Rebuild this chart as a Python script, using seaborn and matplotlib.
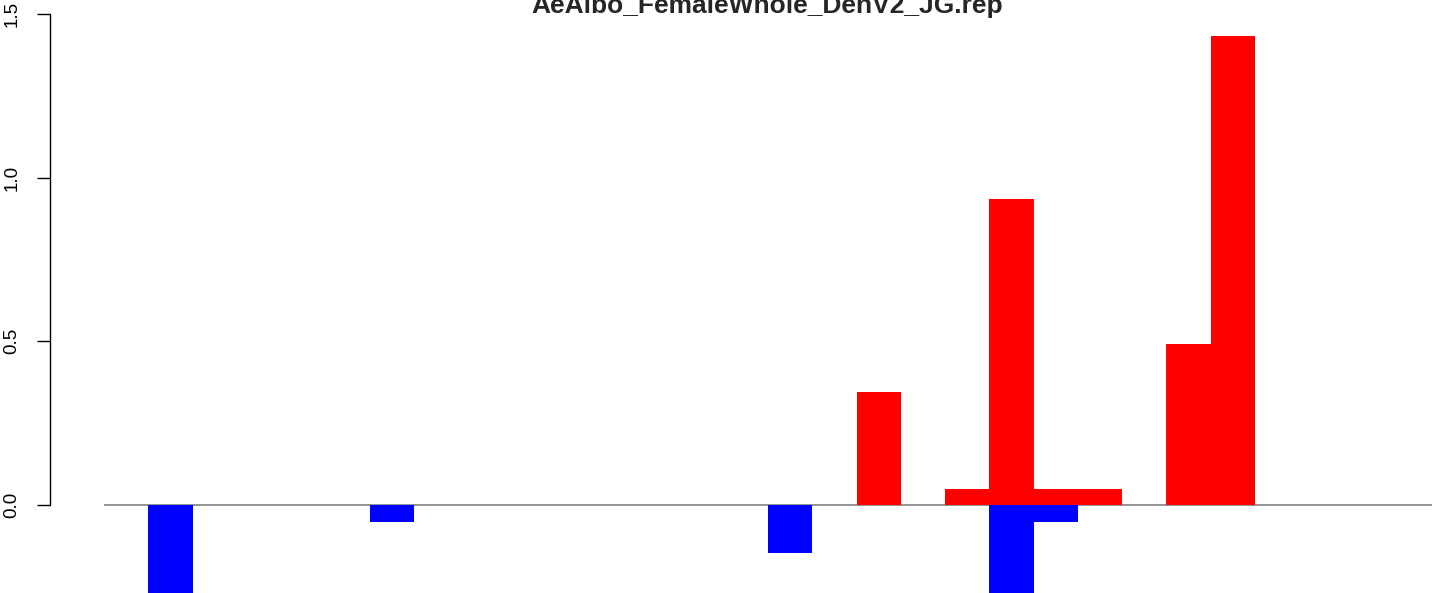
import matplotlib
matplotlib.use("Agg")
import matplotlib.pyplot as plt
import seaborn as sns
import pandas as pd

title = "AeAlbo_FemaleWhole_DenV2_JG.rep"
red_pos = [16, 18, 19, 20, 21, 23, 24]
red_val = [0.345, 0.048, 0.935, 0.048, 0.048, 0.492, 1.432]
blue_pos = [0, 5, 14, 19, 20]
blue_val = [-0.30, -0.052, -0.147, -0.30, -0.052]
yticks = [0.0, 0.5, 1.0, 1.5]
ytick_labels = ["0.0", "0.5", "1.0", "1.5"]

df = pd.DataFrame({
    "pos": red_pos + blue_pos,
    "val": red_val + blue_val,
    "sign": ["up"] * len(red_pos) + ["down"] * len(blue_pos),
})

sns.set_theme(style="white")
plt.rcParams["font.family"] = ["Liberation Sans", "DejaVu Sans"]

W, H = 1444, 593
fig = plt.figure(figsize=(W / 100, H / 100), dpi=100)
ax = fig.add_axes([49.5 / W, 0, 1 - 49.5 / W, 1])

sns.barplot(data=df, x="pos", y="val", hue="sign", native_scale=True,
            palette={"up": "#FF0000", "down": "#0000FF"}, width=1,
            dodge=False, errorbar=None, saturation=1, linewidth=0,
            legend=False, ax=ax)

ax.hlines(0, -1.494, 28.50, color="#808080", linewidth=1.2, zorder=0)

ax.set_xlim(-2.736, 28.77)
ax.set_ylim(-0.269, 1.543)
ax.set_xlabel("")
ax.set_ylabel("")
ax.set_xticks([])
ax.set_yticks(yticks)
ax.set_yticklabels(ytick_labels, rotation=90, va="center", fontsize=13.5)
for s in ["top", "right", "bottom"]:
    ax.spines[s].set_visible(False)
ax.spines["left"].set_bounds(0, 1.5)
ax.spines["left"].set_color("black")
ax.spines["left"].set_linewidth(1)
ax.tick_params(axis="y", which="both", left=True, length=9.4, width=1,
               color="black", pad=11.5, labelcolor="black")

fig.text(767 / W, 1 - 13 / H, title, ha="center", va="baseline",
         fontsize=19, fontweight="bold")

fig.savefig("out.png", dpi=100)
